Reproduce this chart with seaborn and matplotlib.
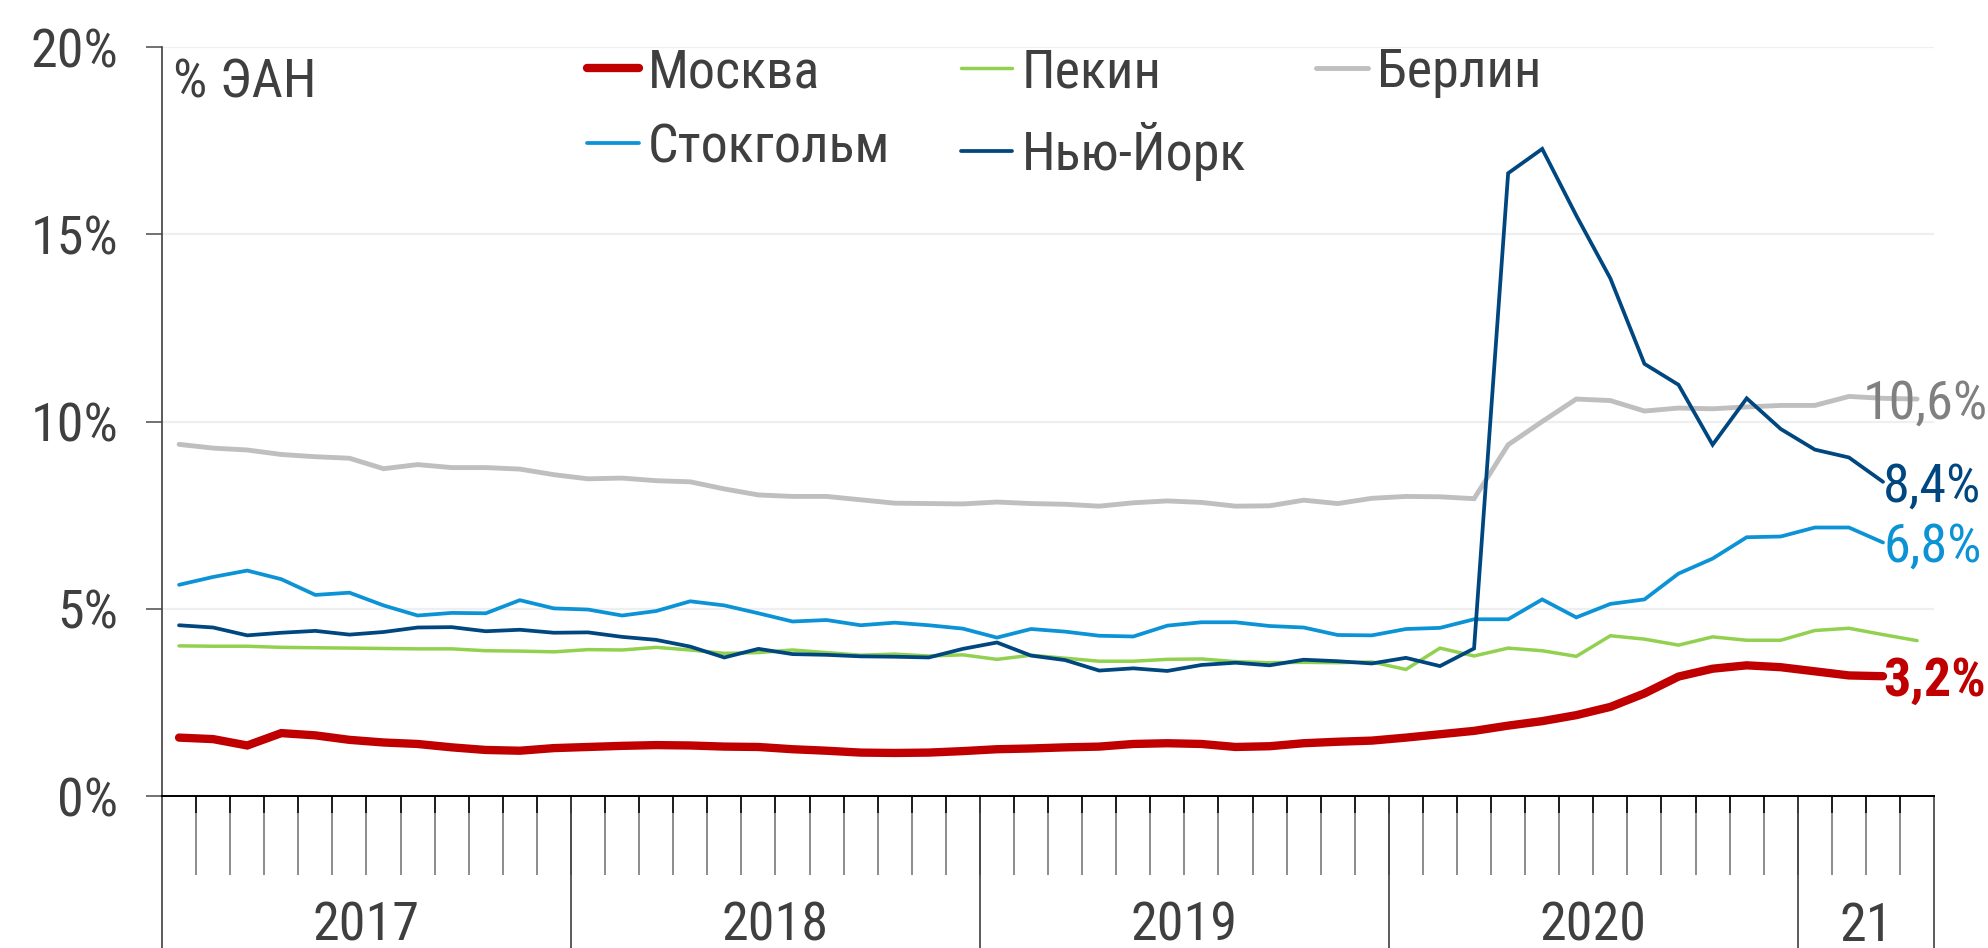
import matplotlib
matplotlib.use("Agg")
import matplotlib.pyplot as plt
from matplotlib import font_manager
from matplotlib.ticker import FixedLocator, FuncFormatter
import seaborn as sns
import numpy as np

# monthly values, Jan 2017 .. Apr 2021 (% of labour force)
moscow = [1.56, 1.52, 1.35, 1.68, 1.62, 1.50, 1.43, 1.39, 1.30, 1.23, 1.21, 1.28,
          1.31, 1.34, 1.36, 1.35, 1.32, 1.31, 1.25, 1.21, 1.16, 1.15, 1.16, 1.20,
          1.25, 1.27, 1.30, 1.32, 1.39, 1.41, 1.39, 1.31, 1.33, 1.41, 1.45, 1.48,
          1.56, 1.65, 1.74, 1.88, 2.00, 2.16, 2.38, 2.74, 3.19, 3.40, 3.49, 3.44,
          3.33, 3.22, 3.20]
beijing = [4.01, 4.00, 4.00, 3.97, 3.96, 3.95, 3.94, 3.93, 3.93, 3.88, 3.87, 3.85,
           3.91, 3.90, 3.97, 3.90, 3.81, 3.83, 3.90, 3.83, 3.76, 3.79, 3.74, 3.77,
           3.65, 3.76, 3.68, 3.60, 3.60, 3.65, 3.66, 3.59, 3.56, 3.57, 3.56, 3.58,
           3.38, 3.95, 3.74, 3.95, 3.88, 3.73, 4.28, 4.19, 4.03, 4.25, 4.16, 4.16,
           4.42, 4.48, 4.31, 4.15]
berlin = [9.39, 9.29, 9.24, 9.12, 9.06, 9.02, 8.74, 8.85, 8.77, 8.77, 8.73, 8.58,
          8.47, 8.49, 8.42, 8.39, 8.20, 8.04, 8.00, 8.00, 7.91, 7.82, 7.81, 7.80,
          7.85, 7.81, 7.79, 7.74, 7.83, 7.88, 7.84, 7.74, 7.75, 7.90, 7.81, 7.95,
          8.00, 7.99, 7.94, 9.38, 10.00, 10.60, 10.56, 10.28, 10.36, 10.34, 10.39, 10.43,
          10.43, 10.67, 10.62, 10.60]
stockholm = [5.64, 5.85, 6.02, 5.79, 5.37, 5.43, 5.09, 4.82, 4.89, 4.88, 5.23, 5.01,
             4.98, 4.82, 4.94, 5.20, 5.09, 4.88, 4.66, 4.70, 4.56, 4.63, 4.56, 4.47,
             4.23, 4.46, 4.39, 4.28, 4.26, 4.55, 4.64, 4.64, 4.54, 4.50, 4.30, 4.29,
             4.46, 4.49, 4.72, 4.72, 5.25, 4.77, 5.13, 5.25, 5.94, 6.34, 6.91, 6.93,
             7.17, 7.17, 6.77]
new_york = [4.56, 4.50, 4.29, 4.36, 4.41, 4.31, 4.38, 4.50, 4.51, 4.40, 4.44, 4.36,
            4.37, 4.25, 4.17, 3.99, 3.70, 3.93, 3.79, 3.77, 3.73, 3.72, 3.70, 3.93,
            4.10, 3.75, 3.63, 3.35, 3.41, 3.34, 3.50, 3.56, 3.49, 3.64, 3.60, 3.54,
            3.69, 3.47, 3.94, 16.63, 17.28, 15.50, 13.82, 11.54, 10.98, 9.38, 10.62, 9.80,
            9.25, 9.04, 8.39]

years = ["2017", "2018", "2019", "2020", "21"]
months_in_year = [12, 12, 12, 12, 4]
y_ticks = [0, 5, 10, 15, 20]

names = {f.name for f in font_manager.fontManager.ttflist}
base_font = "Roboto Condensed" if "Roboto Condensed" in names else "Liberation Sans"

sns.set_style("white")
plt.rcParams["font.family"] = [base_font, "DejaVu Sans"]
text_color = "#3f3f3f"
fs = 39

fig = plt.figure(figsize=(19.88, 9.48), dpi=100)
ax = fig.add_axes([0.0815, 0.1603, 0.8914, 0.7901])

series = [
    ("Москва", moscow, "#c00000", 6.0, 4),
    ("Стокгольм", stockholm, "#0b93d6", 2.7, 2),
    ("Пекин", beijing, "#92d050", 2.5, 2),
    ("Нью-Йорк", new_york, "#00467f", 2.7, 3),
    ("Берлин", berlin, "#bfbfbf", 3.5, 1),
]
for name, vals, color, lw, z in series:
    x = np.arange(len(vals)) + 0.5
    sns.lineplot(x=x, y=vals, ax=ax, color=color, linewidth=lw, label=name,
                 zorder=z, solid_capstyle="round", solid_joinstyle="miter")

ax.set_xlim(0, sum(months_in_year))
ax.set_ylim(0, 20)

# grid and spines
ax.yaxis.set_major_locator(FixedLocator(y_ticks))
ax.yaxis.set_major_formatter(FuncFormatter(lambda v, _: f"{v:.0f}%"))
ax.grid(axis="y", color="#efefef", linewidth=1.6, zorder=0)
ax.grid(axis="x", visible=False)
for s in ["top", "right"]:
    ax.spines[s].set_visible(False)
ax.spines["left"].set_color("#404040")
ax.spines["left"].set_linewidth(1.2)
ax.spines["bottom"].set_color("#000000")
ax.spines["bottom"].set_linewidth(1.4)
ax.tick_params(axis="y", left=True, length=11.5, width=1.2, color="#595959", pad=20,
               labelsize=fs, labelcolor=text_color)

# month ticks: long grey lines with a short dark top
bounds = np.arange(1, sum(months_in_year))
ax.xaxis.remove_overlapping_locs = False
ax.xaxis.set_major_locator(FixedLocator(bounds))
ax.xaxis.set_minor_locator(FixedLocator(bounds))
ax.tick_params(axis="x", which="major", bottom=True, length=57, width=1.1,
               color="#6e6e6e", labelbottom=False, direction="out")
ax.tick_params(axis="x", which="minor", bottom=True, length=12, width=1.1,
               color="#000000", direction="out")

# year separators and labels
edges = np.concatenate([[0], np.cumsum(months_in_year)])
for e in edges:
    ax.axvline(e, ymin=-0.25, ymax=0, color="#404040", linewidth=1.2, clip_on=False)
for i, yr in enumerate(years):
    ax.text((edges[i] + edges[i + 1]) / 2, -0.193, yr,
            transform=ax.get_xaxis_transform(), ha="center", va="baseline",
            fontsize=fs, color=text_color)

ax.text(0.0062, 0.933, "% ЭАН", transform=ax.transAxes, ha="left", va="baseline",
        fontsize=fs, color=text_color)

# end-of-line value labels
end_labels = [
    (berlin, "#808080", "normal", 49.9),
    (new_york, "#00467f", "normal", None),
    (stockholm, "#0b93d6", "normal", None),
    (moscow, "#c00000", "bold", None),
]
for vals, color, weight, xpos in end_labels:
    xl = len(vals) - 0.5 if xpos is None else xpos
    ax.annotate(f"{vals[-1]:.1f}".replace(".", ",") + "%", xy=(xl, vals[-1]),
                xytext=(0, -14), textcoords="offset points", ha="left",
                va="baseline", fontsize=fs, color=color, fontweight=weight,
                zorder=6, annotation_clip=False)

leg = ax.legend(loc="upper left", bbox_to_anchor=(0.24, 1.0), ncol=3,
                frameon=False, fontsize=fs, handlelength=0.95, handletextpad=0.17,
                columnspacing=1.3, labelspacing=0.45, borderpad=0, borderaxespad=0)
for t in leg.get_texts():
    t.set_color(text_color)

fig.savefig("out.png", dpi=100)
